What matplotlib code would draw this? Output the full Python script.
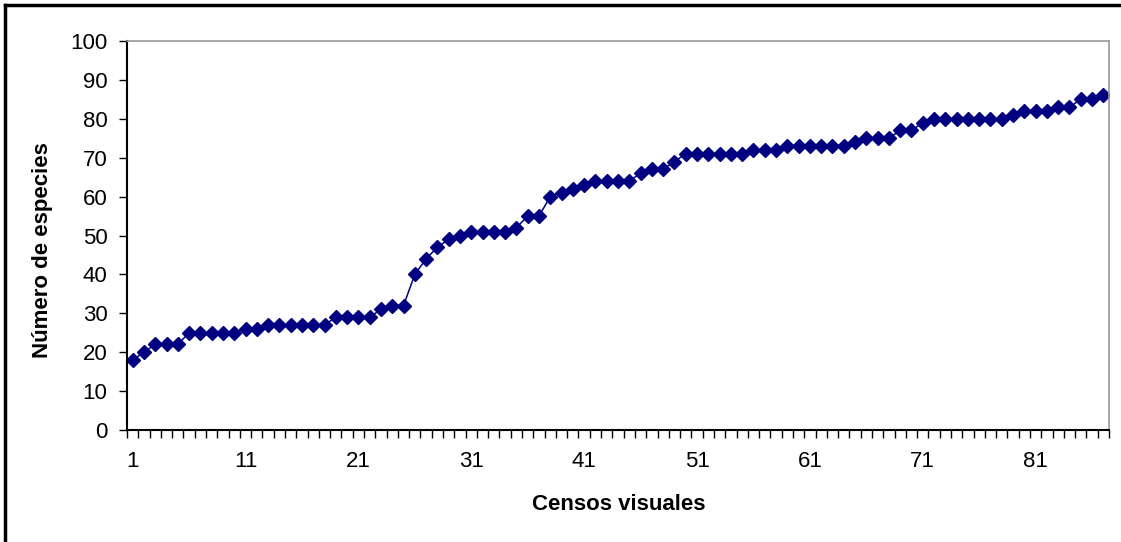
import numpy as np
import matplotlib.pyplot as plt
from matplotlib.lines import Line2D

plt.rcParams['font.family'] = ['Liberation Sans', 'DejaVu Sans']

# datos: numero acumulado de especies por censo visual
censos = np.arange(1, 88)
especies = [18, 20, 22, 22, 22, 25, 25, 25, 25, 25,
            26, 26, 27, 27, 27, 27, 27, 27, 29, 29,
            29, 29, 31, 32, 32, 40, 44, 47, 49, 50,
            51, 51, 51, 51, 52, 55, 55, 60, 61, 62,
            63, 64, 64, 64, 64, 66, 67, 67, 69, 71,
            71, 71, 71, 71, 71, 72, 72, 72, 73, 73,
            73, 73, 73, 73, 74, 75, 75, 75, 77, 77,
            79, 80, 80, 80, 80, 80, 80, 80, 81, 82,
            82, 82, 83, 83, 85, 85, 86]
yticks = np.arange(0, 101, 10)
xlabels = [1, 11, 21, 31, 41, 51, 61, 71, 81]

W, H = 1121, 542
fig = plt.figure(figsize=(W / 100, H / 100), dpi=100)
ax = fig.add_axes([127 / W, 1 - 430 / H, (1109 - 127) / W, (430 - 41) / H])

ax.plot(censos, especies, color='#000080', lw=1.1, marker='D',
        markersize=7.3, markerfacecolor='#000080', markeredgecolor='#000080')

n = len(censos)
ax.set_xlim(0.5, n + 0.5)
ax.set_ylim(0, 100)
ax.set_yticks(yticks)
ax.set_xticks(np.arange(0.5, n + 1))
ax.set_xticklabels([])
ax.set_xticks(xlabels, minor=True)
ax.set_xticklabels([str(v) for v in xlabels], minor=True)
ax.tick_params(axis='x', which='major', direction='out', length=6, width=1, color='black')
ax.tick_params(axis='x', which='minor', length=0, pad=15, labelsize=16)
ax.tick_params(axis='y', direction='out', length=6, width=1, labelsize=16, pad=8)

for s in ['top', 'right']:
    ax.spines[s].set_color('#999999')
    ax.spines[s].set_linewidth(1.2)
for s in ['left', 'bottom']:
    ax.spines[s].set_color('black')
    ax.spines[s].set_linewidth(1.5)

fig.text(43 / W, 1 - 250 / H, 'Número de especies', rotation=90, ha='center',
         va='center', fontsize=16, fontweight='bold')
fig.text(619 / W, 1 - 505 / H, 'Censos visuales', ha='center', va='center',
         fontsize=16, fontweight='bold')

# borde del area del grafico (recortado)
fig.add_artist(Line2D([5 / W, 5 / W], [0, 1 - 5 / H], transform=fig.transFigure,
                      color='black', lw=2.5))
fig.add_artist(Line2D([5 / W, 1], [1 - 5 / H, 1 - 5 / H], transform=fig.transFigure,
                      color='black', lw=2.5))

fig.savefig('out.png', dpi=100)
